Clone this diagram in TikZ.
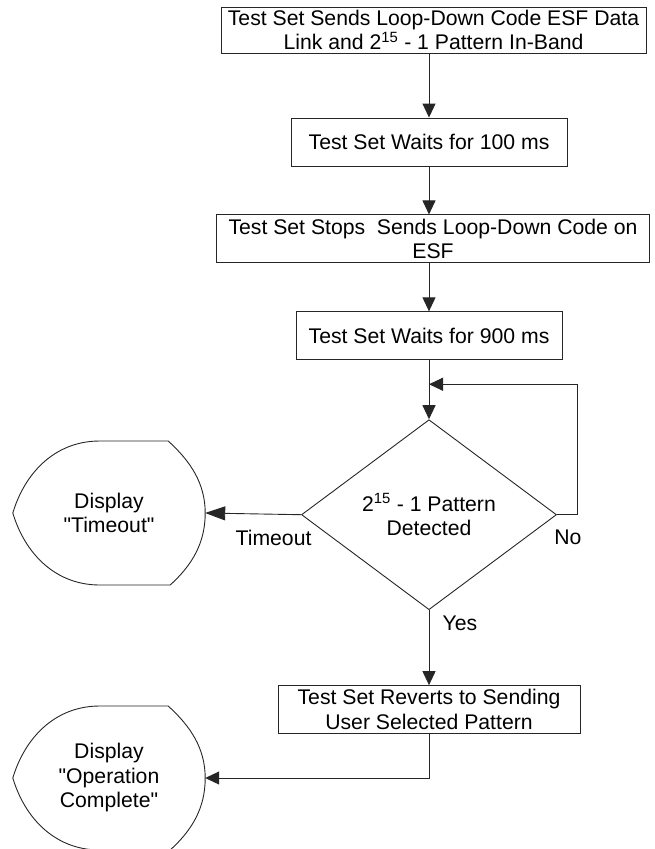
\documentclass[tikz,border=0pt]{standalone}
\usepackage{fontspec}
\setmainfont{Liberation Sans}
\usetikzlibrary{shapes.geometric, arrows.meta, positioning, calc}

% outline of a flowchart display symbol round a node
\newcommand\displayoutline[1]{%
  \draw[line] (#1.west)
    .. controls ($(#1.west)+(12,-40)$) and ($(#1.west)+(42,-72)$) .. ($(#1.west)+(87,-72)$)
    -- ($(#1.east)+(-37,-72)$)
    .. controls ($(#1.east)+(-15,-52)$) and ($(#1.east)+(0,-30)$) .. (#1.east)
    .. controls ($(#1.east)+(0,30)$) and ($(#1.east)+(-13,52)$) .. ($(#1.east)+(-35,72)$)
    -- ($(#1.west)+(87,72)$)
    .. controls ($(#1.west)+(42,72)$) and ($(#1.west)+(12,40)$) .. (#1.west);}

\begin{document}
\begin{tikzpicture}[
    x=1pt, y=-1pt,
    txt/.style = {font=\fontsize{21.2}{24.5}\selectfont},
    line/.style = {draw=black!85, line width=0.9pt},
    base/.style = {
        rectangle, txt, line, inner sep=0pt,
        align=center, minimum height=48pt
    },
    decision/.style = {
        diamond, txt, line, inner sep=0pt, align=center,
        minimum width=255pt, minimum height=190pt, shape aspect=1.34
    },
    display/.style = {txt, inner sep=0pt, align=center, minimum width=192pt, minimum height=144pt},
    lbl/.style = {txt, inner sep=0pt, anchor=base},
    arr/.style = {line, -{Triangle[length=14pt, width=13pt]}}
]
\useasboundingbox (0,0) rectangle (654,849);

\node[base, minimum width=276pt] (wait1) at (429,142) {Test Set Waits for 100 ms};
\node[base, minimum width=425pt, minimum height=46pt, above=64pt of wait1, xshift=4.5pt] (send)
    {Test Set Sends Loop-Down Code ESF Data\\Link and 2\textsuperscript{15} - 1 Pattern In-Band};
\node[base, minimum width=433pt, below=48pt of wait1, xshift=4pt] (stops)
    {Test Set Stops\ \ Sends Loop-Down Code on\\ESF};
\node[base, minimum width=266pt, below=48pt of stops, xshift=-4pt] (wait2) {Test Set Waits for 900 ms};
\node[decision, below=59pt of wait2] (dec) {2\textsuperscript{15} - 1 Pattern\\Detected};
\node[base, minimum width=302pt, below=75pt of dec] (revert)
    {Test Set Reverts to Sending\\User Selected Pattern};
\node[display] (timeout) at (109,513) {Display\\\textquotedbl Timeout\textquotedbl};
\node[display] (done) at (109,778) {Display\\\textquotedbl Operation\\Complete\textquotedbl};
\displayoutline{timeout}
\displayoutline{done}

\coordinate (join) at ([yshift=-24pt]wait2.south);

\draw[arr] (send.south -| wait1.north) -- (wait1.north);
\draw[arr] (wait1.south) -- (stops.north -| wait1.south);
\draw[arr] (stops.south -| wait2.north) -- (wait2.north);
\draw[arr] (wait2) -- (dec);
\draw[arr] (dec.east) -- ++(20,0) |- (join);
\draw[arr, -{Triangle[length=20pt, width=14pt]}] (dec.west) -- (timeout.east);
\draw[arr] (dec) -- (revert);
\draw[arr] (revert.south) |- (done.east);

\node[lbl] (tolbl) at ([xshift=-27.5pt, yshift=-31pt]dec.west) {Timeout};
\node[lbl] (nolbl) at ([xshift=11pt, yshift=-30pt]dec.east) {No};
\node[lbl] (yeslbl) at ([xshift=31pt, yshift=-20pt]dec.south) {Yes};
\end{tikzpicture}
\end{document}
